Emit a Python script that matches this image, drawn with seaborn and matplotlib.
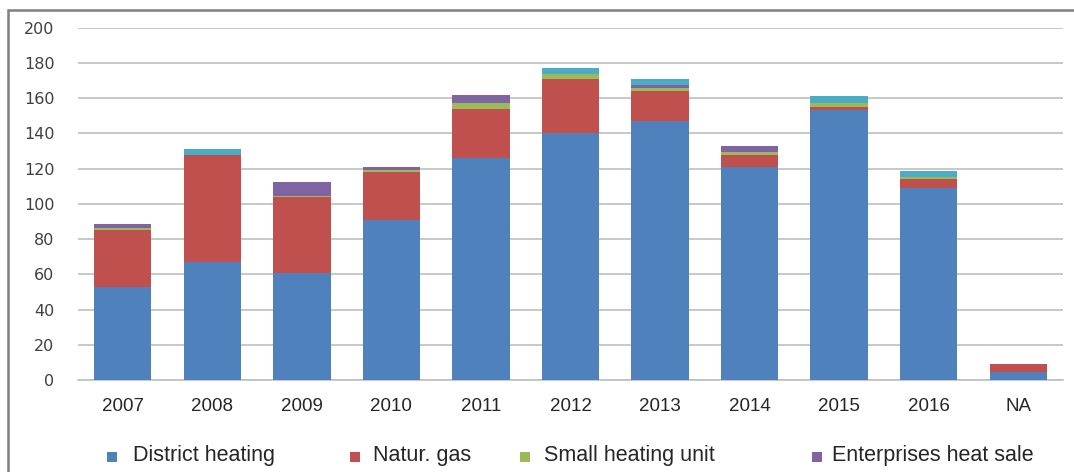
import numpy as np
import pandas as pd
import matplotlib
matplotlib.use("Agg")
import matplotlib.pyplot as plt
import matplotlib.patches as mpatches
import seaborn as sns

# Heat supply by source and year
years = ["2007", "2008", "2009", "2010", "2011", "2012", "2013", "2014", "2015", "2016", "NA"]
district_heating = [53, 67, 61, 91, 126, 140, 147, 121, 153, 109, 4.5]
natur_gas = [32, 61, 43, 27, 28, 31, 17, 6.5, 2, 5, 4.5]
small_heating_unit = [1.5, 0, 0.5, 1, 3.5, 2.5, 2, 2, 2.5, 1.5, 0]
enterprises_heat_sale = [2, 0, 8, 2, 4.5, 0, 1.5, 3.5, 0, 0, 0]
other = [0, 3, 0, 0, 0, 3.5, 3.5, 0, 3.5, 3, 0]

series = [
    ("District heating", district_heating, "#4F81BD"),
    ("Natur. gas", natur_gas, "#C0504D"),
    ("Small heating unit", small_heating_unit, "#9BBB59"),
    ("Enterprises heat sale", enterprises_heat_sale, "#8064A2"),
    ("Other", other, "#4BACC6"),
]
legend_names = ["District heating", "Natur. gas", "Small heating unit", "Enterprises heat sale"]
y_ticks = list(range(0, 201, 20))

sns.set_theme(style="white")
plt.rcParams["font.family"] = ["Liberation Sans", "DejaVu Sans"]

W, H = 1074, 472
fig = plt.figure(figsize=(W / 100, H / 100), dpi=100)
fig.patch.set_facecolor("white")
ax = fig.add_axes([78 / W, 1 - 380 / H, (1063 - 78) / W, (380 - 27.7) / H])

bottom = np.zeros(len(years))
for name, vals, col in series:
    df = pd.DataFrame({"year": years, "value": vals})
    sns.barplot(data=df, x="year", y="value", color=col, saturation=1,
                width=0.64, bottom=bottom, errorbar=None, ax=ax,
                linewidth=0, zorder=3)
    bottom = bottom + np.array(vals, dtype=float)

ax.set_ylim(0, 200)
ax.set_xlim(-0.5, len(years) - 0.5)
ax.set_yticks(y_ticks)
ax.set_xlabel("")
ax.set_ylabel("")
ax.yaxis.grid(True, color="#BFBFBF", linewidth=1.2, zorder=0)
ax.xaxis.grid(False)
for s in ["top", "right", "left"]:
    ax.spines[s].set_visible(False)
ax.spines["bottom"].set_color("#BFBFBF")
ax.spines["bottom"].set_linewidth(1.2)
ax.tick_params(axis="both", length=0)
ax.tick_params(axis="y", pad=17, labelsize=11.5, labelcolor="#404040")
ax.tick_params(axis="x", pad=13, labelsize=13.5, labelcolor="#262626")
for lab in ax.get_yticklabels():
    lab.set_fontfamily("DejaVu Sans")

# legend row along the lower edge
leg_marks = [107, 350, 520, 812]
leg_text = [133, 373, 544, 832]
colors = {n: c for n, _, c in series}
for name, mx, tx in zip(legend_names, leg_marks, leg_text):
    fig.add_artist(mpatches.Rectangle((mx / W, 1 - 462 / H), 10 / W, 10 / H,
                                      transform=fig.transFigure,
                                      facecolor=colors[name], edgecolor="none"))
    fig.text(tx / W, 1 - 456 / H, name, fontsize=15.5, color="#262626",
             va="center", ha="left")

# chart frame
fig.add_artist(mpatches.Rectangle((8 / W, -0.5), 2.0, 0.5 + 1 - 10 / H,
                                  transform=fig.transFigure, fill=False,
                                  edgecolor="#7F7F7F", linewidth=1.8,
                                  clip_on=False))

fig.savefig("out.png", dpi=100, facecolor="white")
